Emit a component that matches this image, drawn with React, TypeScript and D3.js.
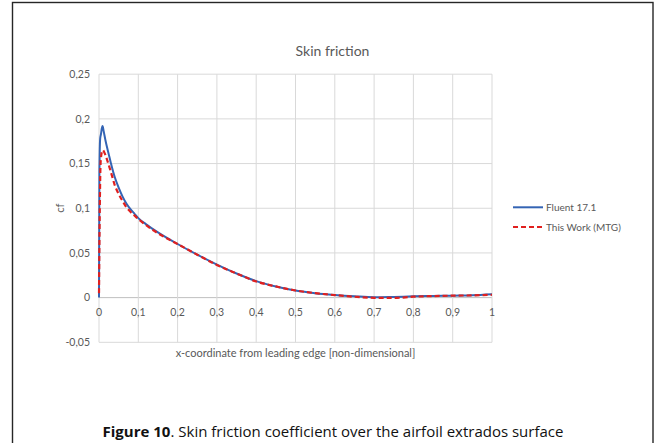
import { useEffect, useRef } from "react";
import * as d3 from "d3";

// Fluent 17.1 (solid blue)
const fluentX = [0, 0.001, 0.003, 0.005, 0.007, 0.009, 0.012, 0.016, 0.02, 0.025, 0.03, 0.04, 0.05, 0.06, 0.07, 0.08, 0.09, 0.1, 0.12, 0.15, 0.2, 0.25, 0.3, 0.35, 0.4, 0.45, 0.5, 0.55, 0.6, 0.65, 0.7, 0.75, 0.8, 0.85, 0.9, 0.95, 1.0];
const fluentCf = [0, 0.14, 0.178, 0.183, 0.189, 0.192, 0.186, 0.177, 0.169, 0.16, 0.151, 0.135, 0.123, 0.113, 0.105, 0.099, 0.094, 0.089, 0.082, 0.073, 0.06, 0.048, 0.037, 0.027, 0.0185, 0.0125, 0.008, 0.005, 0.003, 0.0015, 0.0004, 0.0008, 0.0014, 0.0018, 0.0022, 0.0026, 0.0037];

// This Work (MTG) (dashed red)
const mtgX = [0, 0.002, 0.004, 0.006, 0.008, 0.01, 0.013, 0.016, 0.02, 0.025, 0.03, 0.04, 0.05, 0.06, 0.07, 0.08, 0.09, 0.1, 0.12, 0.15, 0.2, 0.25, 0.3, 0.35, 0.4, 0.45, 0.5, 0.55, 0.6, 0.65, 0.7, 0.75, 0.8, 0.85, 0.9, 0.95, 1.0];
const mtgCf = [0.005, 0.1, 0.15, 0.16, 0.164, 0.165, 0.163, 0.16, 0.155, 0.148, 0.141, 0.126, 0.116, 0.108, 0.101, 0.096, 0.092, 0.088, 0.081, 0.072, 0.06, 0.048, 0.0365, 0.027, 0.018, 0.0125, 0.008, 0.005, 0.0028, 0.001, -0.0002, -0.0004, 0.001, 0.0017, 0.0022, 0.0025, 0.0032];

const xTicks = [0, 0.1, 0.2, 0.3, 0.4, 0.5, 0.6, 0.7, 0.8, 0.9, 1];
const xTickLabels = ["0", "0,1", "0,2", "0,3", "0,4", "0,5", "0,6", "0,7", "0,8", "0,9", "1"];
const yTicks = [-0.05, 0, 0.05, 0.1, 0.15, 0.2, 0.25];
const yTickLabels = ["-0,05", "0", "0,05", "0,1", "0,15", "0,2", "0,25"];

const seriesNames = ["Fluent 17.1", "This Work (MTG)"];

const W = 656;
const H = 443;
const chartFont = "Lato, 'Open Sans', sans-serif";
const textColor = "#595959";

const App = () => {
  const svgRef = useRef<SVGSVGElement>(null);

  useEffect(() => {
    if (!svgRef.current) return;
    const svg = d3.select(svgRef.current);
    svg.selectAll("*").remove();

    const x = d3.scaleLinear().domain([0, 1]).range([99, 492]);
    const y = d3.scaleLinear().domain([-0.05, 0.25]).range([342.3, 74.2]);

    // frame around the figure
    svg
      .append("rect")
      .attr("x", 12.5)
      .attr("y", 2.5)
      .attr("width", 640.5)
      .attr("height", 470)
      .attr("fill", "#fff")
      .attr("stroke", "#262626")
      .attr("stroke-width", 1.4);

    const g = svg.append("g");

    // gridlines
    g.selectAll(".hgrid")
      .data(yTicks)
      .join("line")
      .attr("x1", x(0))
      .attr("x2", x(1))
      .attr("y1", (d) => y(d))
      .attr("y2", (d) => y(d))
      .attr("stroke", (d) => (d === 0 ? "#bfbfbf" : "#d9d9d9"))
      .attr("stroke-width", 1);

    g.selectAll(".vgrid")
      .data(xTicks)
      .join("line")
      .attr("x1", (d) => x(d))
      .attr("x2", (d) => x(d))
      .attr("y1", y(0.25))
      .attr("y2", y(-0.05))
      .attr("stroke", "#d9d9d9")
      .attr("stroke-width", 1);

    // tick labels
    g.selectAll(".ylab")
      .data(yTicks)
      .join("text")
      .attr("x", 90)
      .attr("y", (d) => y(d))
      .attr("dy", "0.35em")
      .attr("text-anchor", "end")
      .attr("fill", textColor)
      .style("font-family", chartFont)
      .style("font-size", "10.5px")
      .text((_, i) => yTickLabels[i]);

    g.selectAll(".xlab")
      .data(xTicks)
      .join("text")
      .attr("x", (d) => x(d))
      .attr("y", 312)
      .attr("dy", "0.35em")
      .attr("text-anchor", "middle")
      .attr("fill", textColor)
      .style("font-family", chartFont)
      .style("font-size", "10.5px")
      .text((_, i) => xTickLabels[i]);

    // lines
    const line = d3
      .line<[number, number]>()
      .x((d) => x(d[0]))
      .y((d) => y(d[1]))
      .curve(d3.curveMonotoneX);

    const fluent = fluentX.map((v, i) => [v, fluentCf[i]] as [number, number]);
    const mtg = mtgX.map((v, i) => [v, mtgCf[i]] as [number, number]);

    g.append("path")
      .attr("d", line(fluent))
      .attr("fill", "none")
      .attr("stroke", "#3464b4")
      .attr("stroke-width", 2)
      .attr("stroke-linejoin", "round");

    g.append("path")
      .attr("d", line(mtg))
      .attr("fill", "none")
      .attr("stroke", "#e0201f")
      .attr("stroke-width", 2.2)
      .attr("stroke-dasharray", "5,3");

    // titles
    svg
      .append("text")
      .attr("x", 332.5)
      .attr("y", 56)
      .attr("text-anchor", "middle")
      .attr("fill", textColor)
      .style("font-family", chartFont)
      .style("font-size", "14px")
      .text("Skin friction");

    svg
      .append("text")
      .attr("x", (x(0) + x(1)) / 2)
      .attr("y", 353)
      .attr("dy", "0.35em")
      .attr("text-anchor", "middle")
      .attr("fill", textColor)
      .style("font-family", chartFont)
      .style("font-size", "11px")
      .text("x-coordinate from leading edge [non-dimensional]");

    svg
      .append("text")
      .attr("transform", `translate(60,${(y(0.25) + y(-0.05)) / 2}) rotate(-90)`)
      .attr("dy", "0.35em")
      .attr("text-anchor", "middle")
      .attr("fill", textColor)
      .style("font-family", chartFont)
      .style("font-size", "11px")
      .text("cf");

    // legend
    const legend = svg.append("g");
    const legendY = [207.3, 227];
    legend
      .selectAll("line")
      .data(seriesNames)
      .join("line")
      .attr("x1", 513)
      .attr("x2", 543)
      .attr("y1", (_, i) => legendY[i])
      .attr("y2", (_, i) => legendY[i])
      .attr("stroke", (_, i) => (i === 0 ? "#3464b4" : "#e0201f"))
      .attr("stroke-width", (_, i) => (i === 0 ? 2 : 2.2))
      .attr("stroke-dasharray", (_, i) => (i === 0 ? null : "5,3"));

    legend
      .selectAll("text")
      .data(seriesNames)
      .join("text")
      .attr("x", 546)
      .attr("y", (_, i) => legendY[i])
      .attr("dy", "0.35em")
      .attr("fill", textColor)
      .style("font-family", chartFont)
      .style("font-size", "10px")
      .text((d) => d);

    // caption
    const cap = svg
      .append("text")
      .attr("x", 333)
      .attr("y", 437)
      .attr("text-anchor", "middle")
      .attr("fill", "#111")
      .style("font-family", "'Open Sans', 'Noto Sans', sans-serif")
      .style("font-size", "15px");
    cap.append("tspan").style("font-weight", "bold").text("Figure 10");
    cap.append("tspan").text(". Skin friction coefficient over the airfoil extrados surface");
  }, []);

  return (
    <svg
      ref={svgRef}
      width={W}
      height={H}
      style={{ position: "absolute", left: 0, top: 0, background: "#fff" }}
    />
  );
};

export default App;
